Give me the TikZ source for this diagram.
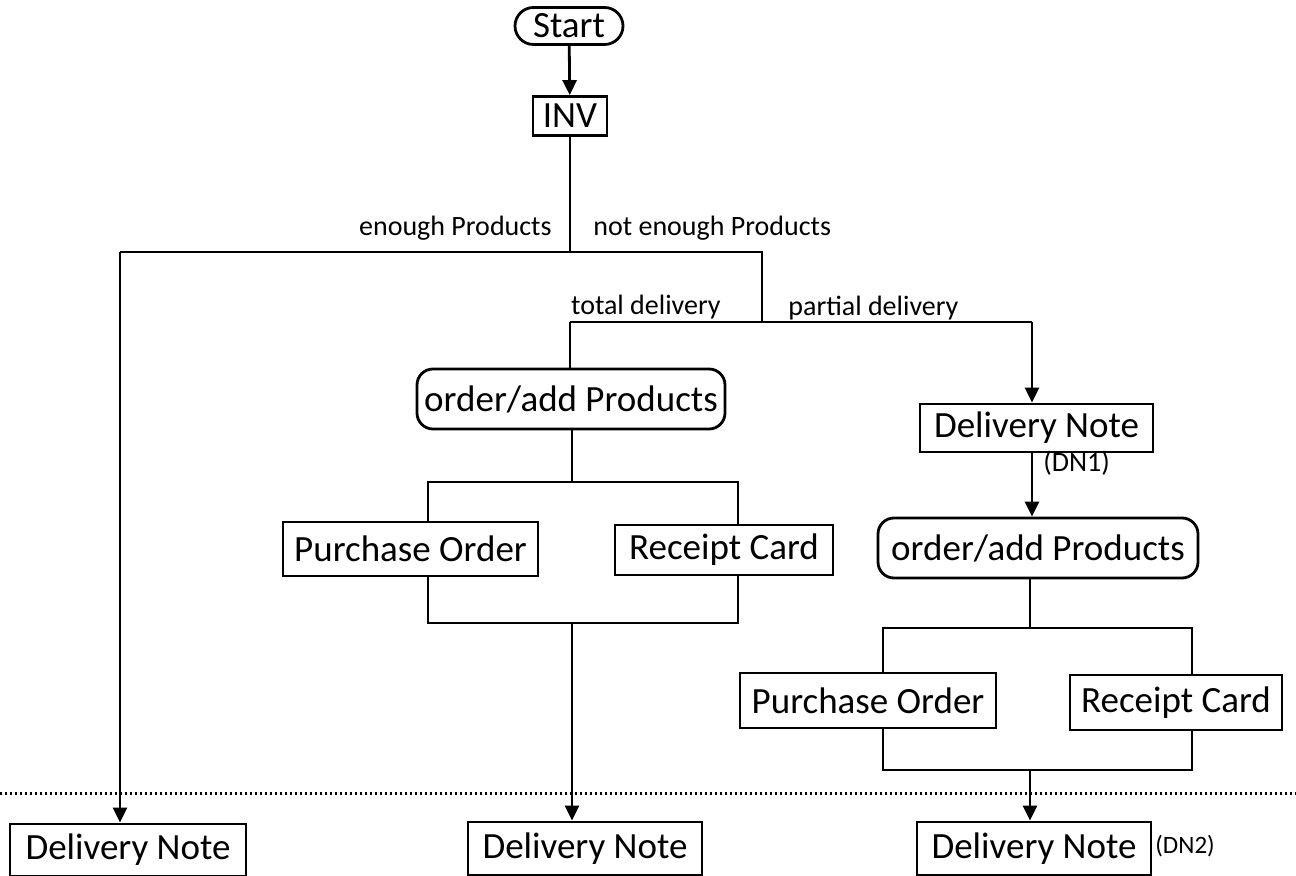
\documentclass[tikz,border=0pt]{standalone}
\usepackage{fontspec}
\setmainfont{Carlito}
\usetikzlibrary{arrows.meta,shapes.misc}
\begin{document}
\begin{tikzpicture}[x=0.5pt,y=-0.5pt,
  line width=1.4pt,
  box/.style={draw,line width=1.4pt,inner sep=0pt,font=\fontsize{18.5}{20}\selectfont},
  rbox/.style={box,rounded corners=8pt},
  lbl/.style={inner sep=0pt,font=\fontsize{14}{16}\selectfont},
  arr/.style={-{Triangle[length=7.5pt,width=7pt]}},
]
\useasboundingbox (0,0) rectangle (1296,876);
% nodes
\node[box,rounded rectangle,minimum width=54pt,minimum height=18.5pt] (start) at (569,26) {Start};
\node[box,minimum width=37pt,minimum height=19.5pt] (inv) at (570,116) {INV};
\node[rbox,minimum width=154pt,minimum height=30pt] (op1) at (571,399) {order/add Products};
\node[box,minimum width=127.5pt,minimum height=27pt] (po1) at (410.5,549) {Purchase Order};
\node[box,minimum width=109pt,minimum height=25pt] (rc1) at (724,550) {Receipt Card};
\node[box,minimum width=116.5pt,minimum height=24pt] (dnp) at (1036.5,428) {Delivery Note};
\node[rbox,minimum width=160pt,minimum height=30pt] (op2) at (1038,548) {order/add Products};
\node[box,minimum width=128pt,minimum height=27.5pt] (po2) at (868,700.5) {Purchase Order};
\node[box,minimum width=106pt,minimum height=27.5pt] (rc2) at (1176,702.5) {Receipt Card};
\node[box,minimum width=118pt,minimum height=26pt] (dn0) at (128,850) {Delivery Note};
\node[box,minimum width=117pt,minimum height=26.5pt] (dn1) at (585,848.5) {Delivery Note};
\node[box,minimum width=117pt,minimum height=26.5pt] (dn3) at (1034,848.5) {Delivery Note};
% labels
\node[lbl,anchor=east] (l1) at (553,228) {enough Products};
\node[lbl,anchor=west] (l2) at (592,228) {not enough Products};
\node[lbl,anchor=east] (l3) at (722,307) {total delivery};
\node[lbl,anchor=west] (l4) at (787,308) {partial delivery};
\node[lbl,anchor=west] (l5) at (1042,463) {(DN1)};
\node[lbl,anchor=west,font=\fontsize{12.5}{14}\selectfont] (l6) at (1154,846) {(DN2)};
% junction coordinates
\coordinate (a0) at (570,252);
\coordinate (aL) at (120,252);
\coordinate (aR) at (762,252);
\coordinate (b0) at (762,322);
\coordinate (bL) at (570,322);
\coordinate (bR) at (1032,322);
\coordinate (c0) at (572,482);
\coordinate (cL) at (428,482);
\coordinate (cR) at (738,482);
\coordinate (d0) at (572,623);
\coordinate (dL) at (428,623);
\coordinate (dR) at (738,623);
\coordinate (e0) at (1030,628);
\coordinate (eL) at (883,628);
\coordinate (eR) at (1192,628);
\coordinate (f0) at (1030,770);
\coordinate (fL) at (883,770);
\coordinate (fR) at (1192,770);
% connectors
\draw[arr] (start) -- (inv);
\draw (inv) -- (a0);
\draw (aL) -- (aR) -- (b0);
\draw[arr] (aL) -- (aL |- dn0.north);
\draw (bL) -- (bR);
\draw (bL) -- (bL |- op1.north);
\draw[arr] (bR) -- (bR |- dnp.north);
\draw (c0 |- op1.south) -- (c0);
\draw (cL |- po1.north) -- (cL) -- (cR) -- (cR |- rc1.north);
\draw (dL |- po1.south) -- (dL) -- (dR) -- (dR |- rc1.south);
\draw[arr] (d0) -- (d0 |- dn1.north);
\draw[arr] (bR |- dnp.south) -- (bR |- op2.north);
\draw (e0 |- op2.south) -- (e0);
\draw (eL |- po2.north) -- (eL) -- (eR) -- (eR |- rc2.north);
\draw (fL |- po2.south) -- (fL) -- (fR) -- (fR |- rc2.south);
\draw[arr] (f0) -- (f0 |- dn3.north);
% dotted separator
\coordinate (sepL) at (0,793);
\coordinate (sepR) at (1296,793);
\draw[line width=1.5pt,dash pattern=on 1.2pt off 1.3pt] (sepL) -- (sepR);
\end{tikzpicture}
\end{document}
